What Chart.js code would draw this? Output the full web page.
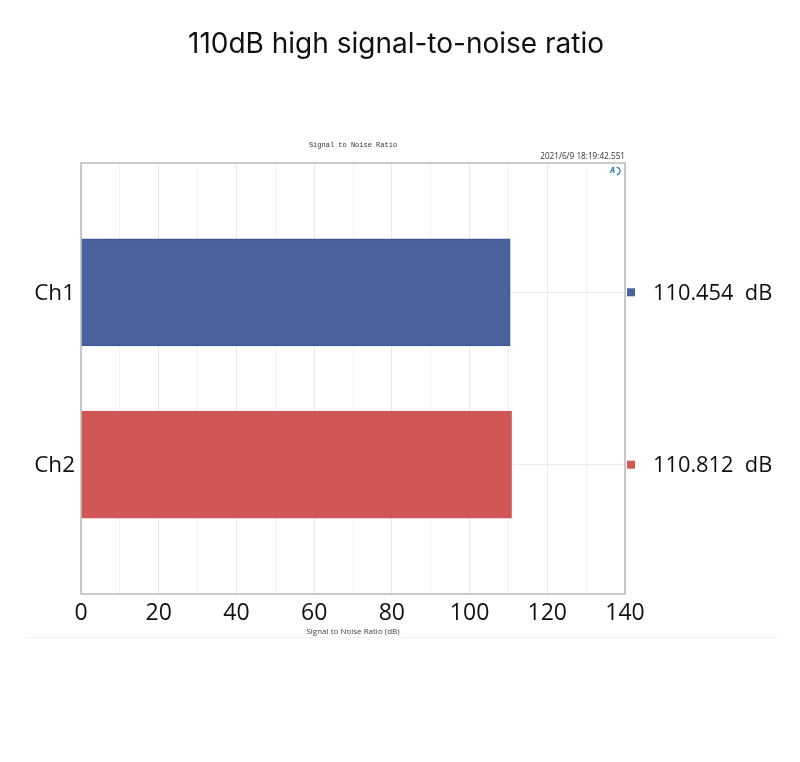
<!DOCTYPE html>
<html>
<head>
<meta charset="utf-8">
<title>Signal to Noise Ratio</title>
<script src="https://cdn.jsdelivr.net/npm/chart.js@4"></script>
<style>
  html, body { margin: 0; padding: 0; background: #fff; }
  canvas { display: block; }
</style>
</head>
<body>
<canvas id="chart" width="800" height="762"></canvas>
<script>
// blank categories keep the half-slot gaps above, between and below the bars
const categories = ['', 'Ch1', '', 'Ch2', ''];
const snrValues = [null, 110.454, null, 110.812, null];
const xTickLabels = [0, 20, 40, 60, 80, 100, 120, 140];
const barColors = ['', 'rgba(66,93,152,0.96)', '', 'rgba(207,80,80,0.96)', ''];
const barEdges = ['', '#3d5a94', '', '#c9605c', ''];
const timestamp = '2021/6/9 18:19:42.551';

const valueLabels = snrValues.map(v => v === null ? '' : v.toFixed(3) + '  dB');
const SANS = '"Open Sans", "Noto Sans", sans-serif';

// frame, side markers, timestamp, logo and the faint edge of the pasted panel
const decorations = {
    id: 'decorations',
    afterDatasetsDraw(chart) {
        const { ctx, chartArea: a } = chart;
        const y = chart.scales.y;
        ctx.save();

        ctx.strokeStyle = '#ababab';
        ctx.lineWidth = 1.2;
        ctx.strokeRect(a.left, a.top, a.right - a.left, a.bottom - a.top);

        categories.forEach((c, i) => {
            if (!c) return;
            ctx.fillStyle = barColors[i];
            ctx.fillRect(a.right + 2, y.getPixelForValue(i) - 4, 8, 8);
        });

        ctx.fillStyle = '#333';
        ctx.font = '8.2px ' + SANS;
        ctx.textAlign = 'right';
        ctx.textBaseline = 'middle';
        ctx.fillText(timestamp, a.right, a.top - 6);

        ctx.fillStyle = '#1f6fa8';
        ctx.font = 'italic bold 8px ' + SANS;
        ctx.textAlign = 'left';
        ctx.fillText('A', a.left + 529, a.top + 8);
        ctx.strokeStyle = '#1f6fa8';
        ctx.lineWidth = 1.2;
        ctx.beginPath();
        ctx.arc(a.left + 535, a.top + 8, 4, -1.4, 1.4);
        ctx.stroke();

        ctx.strokeStyle = '#f3f3f3';
        ctx.lineWidth = 1;
        ctx.beginPath();
        ctx.moveTo(25, 637.5);
        ctx.lineTo(777.5, 637.5);
        ctx.stroke();
        ctx.restore();
    }
};

new Chart(document.getElementById('chart'), {
    type: 'bar',
    plugins: [decorations],
    data: {
        labels: categories,
        datasets: [{
            label: 'Signal to Noise Ratio (dB)',
            data: snrValues,
            backgroundColor: barColors,
            borderColor: barEdges,
            borderWidth: 1,
            barThickness: 107
        }]
    },
    options: {
        indexAxis: 'y',
        responsive: false,
        animation: false,
        layout: { padding: { left: 0, right: 8, top: 0, bottom: 124 } },
        plugins: {
            legend: { display: false },
            tooltip: { enabled: false },
            title: {
                display: true,
                text: '110dB high signal-to-noise ratio',
                color: '#111',
                font: { family: 'Inter, "Noto Sans", sans-serif', size: 28, weight: 'normal', lineHeight: 1 },
                padding: { top: 31, bottom: 80 }
            },
            subtitle: {
                display: true,
                fullSize: false,
                text: 'Signal to Noise Ratio',
                color: '#333',
                font: { family: '"Liberation Mono", monospace', size: 7, lineHeight: 1 },
                padding: { top: 3, bottom: 14 }
            }
        },
        scales: {
            x: {
                type: 'linear',
                min: 0,
                max: 140,
                afterFit(scale) { scale.height = 44; },
                border: { display: false },
                grid: {
                    drawTicks: false,
                    lineWidth: 1,
                    color: ctx => xTickLabels.includes(ctx.tick.value) ? '#e8e8e8' : '#f3f3f3'
                },
                ticks: {
                    stepSize: 10,
                    autoSkip: false,
                    maxRotation: 0,
                    padding: 6,
                    color: '#111',
                    font: { family: SANS, size: 23 },
                    callback: v => xTickLabels.includes(v) ? String(v) : ''
                },
                title: {
                    display: true,
                    text: 'Signal to Noise Ratio (dB)',
                    color: '#444',
                    font: { family: SANS, size: 8, lineHeight: 1 },
                    padding: { top: 0, bottom: 2 }
                }
            },
            y: {
                type: 'category',
                position: 'left',
                afterFit(scale) { scale.width = 81; },
                border: { display: false },
                grid: {
                    offset: false,
                    drawTicks: false,
                    color: ctx => categories[ctx.index] ? '#ebebeb' : 'transparent'
                },
                ticks: {
                    autoSkip: false,
                    padding: 6,
                    labelOffset: 1,
                    color: '#111',
                    font: { family: SANS, size: 22.5 }
                }
            },
            yValues: {
                type: 'category',
                position: 'right',
                labels: valueLabels,
                afterFit(scale) { scale.width = 167; },
                border: { display: false },
                grid: { display: false, drawTicks: false },
                ticks: {
                    autoSkip: false,
                    padding: 28,
                    labelOffset: 1,
                    align: 'center',
                    color: '#111',
                    font: { family: SANS, size: 21.8 }
                }
            }
        }
    }
});
</script>
</body>
</html>
